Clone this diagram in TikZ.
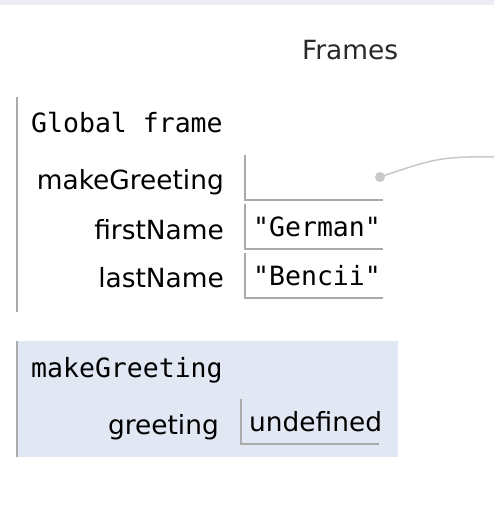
\documentclass[tikz,border=0pt]{standalone}
\usepackage{fontspec}
\setmainfont{DejaVu Sans}
\setmonofont{DejaVu Sans Mono}
\definecolor{bandtint}{RGB}{238,237,246}
\definecolor{rulegray}{RGB}{170,170,170}
\definecolor{framefill}{RGB}{226,232,243}
\definecolor{dotgray}{RGB}{200,200,200}
\definecolor{inkgray}{RGB}{40,40,40}
\tikzset{
  varname/.style={anchor=base east, inner sep=0pt, font=\fontsize{26.4}{30}\selectfont},
  framename/.style={anchor=base west, inner sep=0pt, font=\ttfamily\fontsize{26.5}{30}\selectfont},
  valbox/.style={anchor=west, minimum height=44pt, text width=122pt, inner xsep=8pt, inner ysep=0pt, align=left},
  boxline/.style={draw=rulegray, line width=2pt},
}
\begin{document}
\begin{tikzpicture}[x=1pt,y=-1pt]
\fill [white] (0,0) rectangle (494,526);
\fill [bandtint] (0,0) rectangle (494,5);
\node [font=\fontsize{26.4}{30}\selectfont, text=inkgray] (title) at (350,50) {Frames};
% global frame
\draw [rulegray, line width=2pt] (17,97) -- (17,312);
\node [framename] (globalname) at (31,133) {Global frame};
\node [varname] (mgname) at (224,190) {makeGreeting};
\node [valbox] (mgval) at (245,177.5) {};
\draw [boxline] (mgval.north west) |- (mgval.south east);
\node [varname] (fnname) at (224,239) {firstName};
\node [valbox, font=\ttfamily\fontsize{26.5}{30}\selectfont] (fnval) at (245,226.5) {"German"};
\draw [boxline] (fnval.north west) |- (fnval.south east);
\node [varname] (lnname) at (224,287) {lastName};
\node [valbox, font=\ttfamily\fontsize{26.5}{30}\selectfont] (lnval) at (245,275.5) {"Bencii"};
\draw [boxline] (lnval.north west) |- (lnval.south east);
% pointer
\node [circle, fill=dotgray, inner sep=0pt, minimum size=10pt] (mgdot) at (380,177) {};
\coordinate (mgend) at (494,157);
\draw [dotgray, line width=1.5pt] (mgdot.center) .. controls (430,160) and (440,156) .. (mgend);
% makeGreeting frame
\fill [framefill] (17,341) rectangle (398,457);
\draw [rulegray, line width=2pt] (17,341) -- (17,457);
\node [framename] (callname) at (31,377) {makeGreeting};
\node [varname] (grname) at (219,434) {greeting};
\node [valbox, font=\fontsize{26.4}{30}\selectfont] (grval) at (241,421.5) {undefined};
\draw [boxline] (grval.north west) |- (grval.south east);
\end{tikzpicture}
\end{document}
